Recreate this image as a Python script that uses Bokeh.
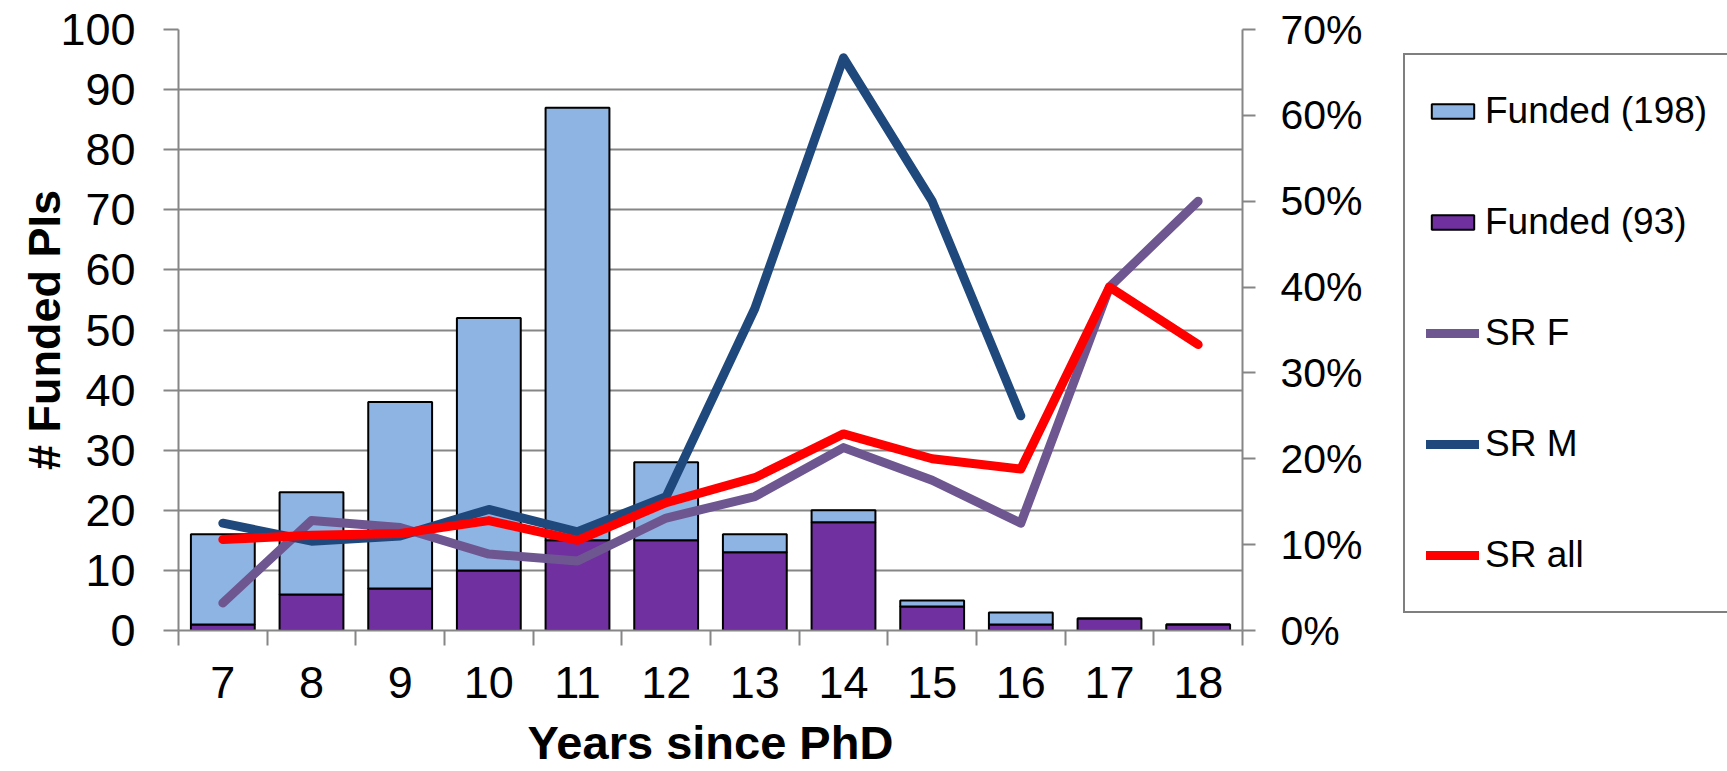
from bokeh.plotting import figure
from bokeh.layouts import row
from bokeh.models import (Range1d, LinearAxis, FixedTicker, PrintfTickFormatter,
                          Legend, LegendItem, ColumnDataSource)
from bokeh.embed import file_html
from bokeh.resources import INLINE

# ---- data ----
years = [7, 8, 9, 10, 11, 12, 13, 14, 15, 16, 17, 18]
funded_93 = [1, 6, 7, 10, 15, 15, 13, 18, 4, 1, 2, 1]
funded_198 = [15, 17, 31, 42, 72, 13, 3, 2, 1, 2, 0, 0]
sr_f = [3.2, 12.8, 12.0, 8.9, 8.1, 13.1, 15.6, 21.3, 17.5, 12.5, 40.0, 50.0]
sr_m_years = [7, 8, 9, 10, 11, 12, 13, 14, 15, 16]
sr_m = [12.5, 10.4, 11.0, 14.1, 11.5, 15.6, 37.5, 66.7, 50.0, 25.0]
sr_all = [10.6, 11.1, 11.3, 12.8, 10.5, 14.9, 17.8, 22.9, 20.0, 18.8, 40.0, 33.3]
left_ticks = [0, 10, 20, 30, 40, 50, 60, 70, 80, 90, 100]
right_ticks = [0, 10, 20, 30, 40, 50, 60, 70]
legend_labels = ["Funded (198)", "Funded (93)", "SR F", "SR M", "SR all"]

C_LIGHT = "#8EB4E3"
C_PURPLE = "#7030A0"
C_SRF = "#6E5791"
C_SRM = "#1F497D"
C_ALL = "#FF0000"
GRAY = "#868686"
FONT = "Liberation Sans"
LW = 9

p = figure(width=1380, height=771, x_range=Range1d(6.5, 18.5), y_range=Range1d(0, 100),
           output_backend="svg", toolbar_location=None,
           min_border_left=178, min_border_right=138, min_border_top=29, min_border_bottom=140)
p.outline_line_color = None
p.background_fill_color = "white"

src = ColumnDataSource(dict(x=years, f93=funded_93, f198=funded_198))
bars = p.vbar_stack(["f93", "f198"], x="x", width=0.72, source=src,
                    fill_color=[C_PURPLE, C_LIGHT], line_color="black", line_width=2)

common = dict(line_width=LW, line_cap="round", line_join="round", y_range_name="pct")
p.extra_y_ranges = {"pct": Range1d(0, 70)}
r_f = p.line(years, sr_f, color=C_SRF, **common)
r_m = p.line(sr_m_years, sr_m, color=C_SRM, **common)
r_a = p.line(years, sr_all, color=C_ALL, **common)

# grid
p.xgrid.visible = False
p.ygrid.ticker = FixedTicker(ticks=left_ticks)
p.ygrid.grid_line_color = GRAY
p.ygrid.grid_line_width = 2

# left axis
ya = p.yaxis[0]
ya.ticker = FixedTicker(ticks=left_ticks)
ya.axis_line_color = GRAY
ya.axis_line_width = 2
ya.major_tick_line_color = GRAY
ya.major_tick_line_width = 2
ya.major_tick_out = 15
ya.major_tick_in = 0
ya.minor_tick_line_color = None
ya.major_label_text_font = FONT
ya.major_label_text_font_size = "45px"
ya.major_label_text_color = "black"
ya.major_label_standoff = 28
ya.axis_label = "# Funded PIs"
ya.axis_label_text_font = FONT
ya.axis_label_text_font_size = "45px"
ya.axis_label_text_font_style = "bold"
ya.axis_label_text_color = "black"
ya.axis_label_standoff = -13

# x axis
xa = p.xaxis[0]
xa.ticker = FixedTicker(ticks=years, minor_ticks=[6.5 + i for i in range(13)])
xa.axis_line_color = GRAY
xa.axis_line_width = 2
xa.major_tick_line_color = None
xa.major_tick_out = 0
xa.major_tick_in = 0
xa.minor_tick_line_color = GRAY
xa.minor_tick_line_width = 2
xa.minor_tick_out = 15
xa.minor_tick_in = 0
xa.major_label_text_font = FONT
xa.major_label_text_font_size = "45px"
xa.major_label_text_color = "black"
xa.major_label_standoff = 21
xa.axis_label = "Years since PhD"
xa.axis_label_text_font = FONT
xa.axis_label_text_font_size = "47px"
xa.axis_label_text_font_style = "bold"
xa.axis_label_text_color = "black"
xa.axis_label_standoff = 15

# right axis
ra = LinearAxis(y_range_name="pct", ticker=FixedTicker(ticks=right_ticks),
                formatter=PrintfTickFormatter(format="%d%%"))
ra.axis_line_color = GRAY
ra.axis_line_width = 2
ra.major_tick_line_color = GRAY
ra.major_tick_line_width = 2
ra.major_tick_out = 13
ra.major_tick_in = 0
ra.minor_tick_line_color = None
ra.major_label_text_font = FONT
ra.major_label_text_font_size = "41px"
ra.major_label_text_color = "black"
ra.major_label_standoff = 25
p.add_layout(ra, "right")

# ---- legend panel: same series, fully covered by the opaque legend box ----
p2 = figure(width=347, height=771, x_range=Range1d(4, 19), y_range=Range1d(-5, 100),
            x_axis_type=None, y_axis_type=None, output_backend="svg",
            toolbar_location=None, min_border=0)
p2.outline_line_color = None
p2.xgrid.visible = False
p2.ygrid.visible = False
lg_b = p2.vbar(x="x", top="f198", width=0.72, source=src,
               fill_color=C_LIGHT, line_color="black", line_width=2)
lg_p = p2.vbar(x="x", top="f93", width=0.72, source=src,
               fill_color=C_PURPLE, line_color="black", line_width=2)
lg_f = p2.line(years, sr_f, line_color=C_SRF, line_width=LW, line_cap="round")
lg_m = p2.line(sr_m_years, sr_m, line_color=C_SRM, line_width=LW, line_cap="round")
lg_a = p2.line(years, sr_all, line_color=C_ALL, line_width=LW, line_cap="round")

legend = Legend(items=[LegendItem(label=lab, renderers=[r]) for lab, r in
                       zip(legend_labels, [lg_b, lg_p, lg_f, lg_m, lg_a])],
                location=(23, 17))
legend.border_line_color = "black"
legend.border_line_width = 2
legend.background_fill_color = "white"
legend.background_fill_alpha = 1
legend.label_text_font = FONT
legend.label_text_font_size = "37px"
legend.label_text_color = "black"
legend.glyph_width = 53
legend.glyph_height = 18
legend.label_height = 70
legend.spacing = 41
legend.padding = 21
legend.margin = 0
legend.label_standoff = 6
p2.add_layout(legend)

layout = row(p, p2)
open("out.html", "w").write(file_html(layout, INLINE))
